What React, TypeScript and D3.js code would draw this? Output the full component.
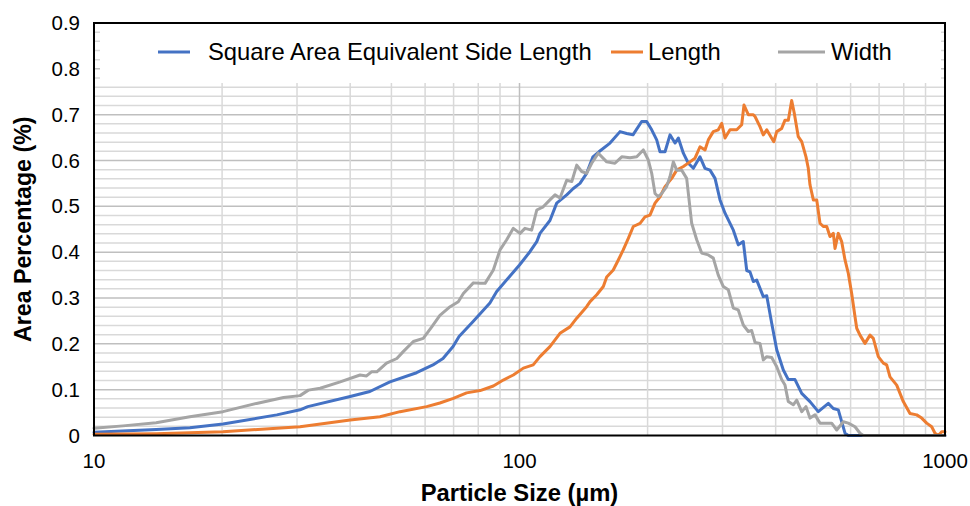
import React from "react";
import * as d3 from "d3";

// Particle size (µm) and area percentage (%) for each size descriptor
const sideSize = [10, 14.0, 16.8, 20.1, 26.9, 30.5, 31.8, 40.0, 44.5, 49.6, 57.3, 62.6, 66.1, 69.8, 72.1, 77.7, 85.2, 88.4, 95.0, 100, 105.8, 109.8, 111.7, 117.9, 122.3, 129.1, 133.8, 138.7, 143.8, 148.8, 153.7, 163.2, 172.3, 178.6, 184.8, 193.7, 199.0, 204.5, 210.1, 213.9, 219.8, 225.8, 232.0, 236.2, 242.7, 249.3, 256.2, 265.6, 272.9, 280.4, 288.1, 296.0, 304.1, 318.1, 326.7, 335.7, 342.0, 348.1, 354.4, 361.0, 374.1, 381.1, 391.5, 402.3, 416.9, 428.3, 444.1, 460.5, 481.6, 503.7, 531.8, 546.4, 561.3, 582.1, 592.5, 1000];
const sideValue = [0.007, 0.013, 0.017, 0.025, 0.045, 0.056, 0.063, 0.085, 0.096, 0.117, 0.137, 0.154, 0.168, 0.194, 0.216, 0.248, 0.289, 0.314, 0.348, 0.372, 0.401, 0.423, 0.441, 0.469, 0.507, 0.525, 0.539, 0.550, 0.572, 0.608, 0.619, 0.638, 0.663, 0.659, 0.656, 0.685, 0.685, 0.667, 0.645, 0.619, 0.619, 0.656, 0.638, 0.649, 0.616, 0.594, 0.583, 0.608, 0.583, 0.579, 0.561, 0.514, 0.485, 0.448, 0.416, 0.423, 0.360, 0.357, 0.336, 0.339, 0.303, 0.305, 0.245, 0.187, 0.143, 0.122, 0.122, 0.092, 0.074, 0.052, 0.070, 0.059, 0.056, 0.005, 0, 0];

const lengthSize = [10, 14.0, 20.1, 26.9, 30.5, 40.0, 47.0, 52.4, 60.5, 65.0, 69.9, 75.1, 80.8, 86.8, 91.6, 96.7, 102.1, 107.7, 111.7, 117.9, 124.5, 131.4, 136.3, 143.8, 146.5, 151.9, 157.4, 160.3, 166.1, 170.7, 175.3, 180.2, 185.1, 192.0, 197.2, 202.6, 208.2, 213.9, 219.8, 227.9, 234.1, 242.7, 251.6, 258.5, 265.6, 272.9, 277.8, 285.4, 293.2, 298.7, 304.1, 312.4, 324.0, 332.8, 337.0, 344.9, 354.4, 357.7, 367.4, 374.1, 381.1, 395.9, 402.3, 413.2, 420.7, 428.3, 436.2, 442.4, 452.0, 460.5, 471.3, 477.2, 481.6, 490.4, 499.5, 508.4, 517.6, 527.3, 536.7, 546.4, 551.5, 561.3, 571.7, 582.1, 592.5, 603.5, 614.5, 620.2, 631.3, 648.6, 666.4, 678.4, 697.0, 716.2, 729.4, 742.5, 770.0, 798.0, 827.4, 858.0, 881.5, 905.7, 930.5, 947.3, 964.5, 982.2, 1000];
const lengthValue = [0.003, 0.004, 0.008, 0.016, 0.019, 0.034, 0.041, 0.052, 0.063, 0.071, 0.081, 0.093, 0.098, 0.108, 0.121, 0.132, 0.147, 0.154, 0.172, 0.194, 0.223, 0.237, 0.256, 0.281, 0.292, 0.307, 0.325, 0.346, 0.361, 0.383, 0.405, 0.430, 0.456, 0.463, 0.477, 0.481, 0.507, 0.521, 0.543, 0.561, 0.579, 0.587, 0.597, 0.605, 0.630, 0.623, 0.645, 0.663, 0.667, 0.681, 0.649, 0.667, 0.667, 0.678, 0.721, 0.700, 0.700, 0.696, 0.674, 0.656, 0.667, 0.641, 0.663, 0.670, 0.688, 0.688, 0.731, 0.703, 0.652, 0.641, 0.608, 0.583, 0.547, 0.514, 0.514, 0.463, 0.456, 0.456, 0.434, 0.441, 0.408, 0.441, 0.423, 0.383, 0.354, 0.310, 0.259, 0.234, 0.219, 0.201, 0.219, 0.212, 0.172, 0.158, 0.154, 0.128, 0.110, 0.074, 0.048, 0.045, 0.038, 0.027, 0.019, 0.005, 0, 0.008, 0.008];

const widthSize = [10, 11.7, 14.0, 16.8, 20.1, 24.1, 27.9, 30.5, 31.9, 34.0, 37.9, 42.2, 43.7, 44.9, 46.2, 48.7, 51.5, 53.3, 56.3, 59.4, 62.2, 65.0, 68.7, 71.8, 73.8, 77.9, 80.8, 83.0, 86.8, 90.0, 93.3, 96.7, 100.3, 103.0, 106.8, 109.8, 113.7, 117.9, 121.2, 124.5, 129.1, 132.7, 136.3, 140.0, 143.8, 147.8, 153.2, 160.3, 167.6, 173.9, 181.8, 188.6, 195.4, 200.8, 204.5, 208.2, 211.9, 215.9, 221.7, 225.8, 229.9, 234.1, 240.5, 247.1, 253.9, 260.9, 268.0, 277.8, 285.4, 293.2, 301.3, 309.5, 318.1, 326.7, 335.7, 344.9, 351.3, 357.7, 367.4, 374.1, 381.1, 391.5, 402.3, 413.2, 420.7, 428.3, 440.0, 448.2, 460.5, 471.3, 481.6, 494.9, 508.4, 541.6, 556.6, 576.8, 592.5, 614.5, 631.3, 642.7, 1000];
const widthValue = [0.016, 0.021, 0.028, 0.041, 0.052, 0.070, 0.083, 0.087, 0.099, 0.103, 0.117, 0.132, 0.130, 0.139, 0.139, 0.158, 0.168, 0.183, 0.205, 0.212, 0.237, 0.262, 0.281, 0.292, 0.310, 0.333, 0.332, 0.332, 0.361, 0.405, 0.427, 0.452, 0.441, 0.452, 0.448, 0.492, 0.499, 0.514, 0.525, 0.518, 0.557, 0.554, 0.590, 0.576, 0.572, 0.594, 0.616, 0.597, 0.594, 0.608, 0.606, 0.608, 0.623, 0.601, 0.572, 0.528, 0.521, 0.528, 0.543, 0.565, 0.597, 0.579, 0.579, 0.561, 0.463, 0.427, 0.398, 0.394, 0.387, 0.350, 0.325, 0.318, 0.278, 0.274, 0.241, 0.227, 0.229, 0.203, 0.201, 0.165, 0.172, 0.170, 0.150, 0.122, 0.110, 0.074, 0.067, 0.077, 0.052, 0.063, 0.038, 0.045, 0.027, 0.027, 0.012, 0.030, 0.027, 0.019, 0.005, 0, 0];

const seriesNames = ["Square Area Equivalent Side Length", "Length", "Width"];
const seriesColors = ["#4472C4", "#ED7D31", "#A5A5A5"];
const xTicks = [10, 100, 1000];
const yTicks = [0, 0.1, 0.2, 0.3, 0.4, 0.5, 0.6, 0.7, 0.8, 0.9];

const W = 970;
const H = 506;
const M = { left: 94, right: 945, top: 23, bottom: 435.5 };
const FONT = "'Liberation Sans', Arial, sans-serif";

export default function App() {
  const x = d3.scaleLog().domain([10, 1000]).range([M.left, M.right]);
  const y = d3.scaleLinear().domain([0, 0.9]).range([M.bottom, M.top]);

  const series = [
    { sizes: sideSize, values: sideValue },
    { sizes: lengthSize, values: lengthValue },
    { sizes: widthSize, values: widthValue },
  ];

  const line = d3
    .line<[number, number]>()
    .x((d) => x(d[0]))
    .y((d) => y(d[1]));

  // minor vertical grid at 20..90 and 200..900, darker line at 100
  const vMinor: number[] = [];
  [10, 100].forEach((dec) => {
    for (let k = 2; k <= 9; k++) vMinor.push(dec * k);
  });
  const hMinor = d3.range(0, 46).map((i) => i * 0.02).filter((v) => Math.round(v * 100) % 10 !== 0);

  const legendItems = [
    { lx: 158, len: 32, tx: 208 },
    { lx: 611, len: 32, tx: 648 },
    { lx: 778, len: 47, tx: 831 },
  ];

  return (
    <svg width={W} height={H} style={{ position: "absolute", left: 0, top: 0, background: "#fff" }}>
      <rect x={0} y={0} width={W} height={H} fill="#fff" />
      {/* grid */}
      <g>
        {hMinor.map((v) => (
          <line key={"hm" + v} x1={M.left} x2={M.right} y1={y(v)} y2={y(v)} stroke="#d9d9d9" strokeWidth={1.5} />
        ))}
        {yTicks.slice(1).map((v) => (
          <line key={"hM" + v} x1={M.left} x2={M.right} y1={y(v)} y2={y(v)} stroke="#bfbfbf" strokeWidth={1.5} />
        ))}
        {vMinor.map((v) => (
          <line key={"vm" + v} x1={x(v)} x2={x(v)} y1={M.top} y2={M.bottom} stroke="#d9d9d9" strokeWidth={1.5} />
        ))}
        <line x1={x(100)} x2={x(100)} y1={M.top} y2={M.bottom} stroke="#bfbfbf" strokeWidth={1.5} />
      </g>

      {/* legend */}
      <rect x={100} y={M.top} width={841} height={60} fill="#fff" />
      {legendItems.map((it, i) => (
        <g key={"lg" + i}>
          <line x1={it.lx} x2={it.lx + it.len} y1={52} y2={52} stroke={seriesColors[i]} strokeWidth={3} />
          <text x={it.tx} y={60} fontFamily={FONT} fontSize={23.8} fill="#000">
            {seriesNames[i]}
          </text>
        </g>
      ))}

      {/* series */}
      {series.map((s, i) => (
        <path
          key={"s" + i}
          d={line(s.sizes.map((sz, j) => [sz, s.values[j]] as [number, number])) || ""}
          fill="none"
          stroke={seriesColors[i]}
          strokeWidth={3}
          strokeLinejoin="round"
          strokeLinecap="round"
        />
      ))}

      {/* plot frame */}
      <rect x={M.left} y={M.top} width={M.right - M.left} height={M.bottom - M.top} fill="none" stroke="#000" strokeWidth={2} />

      {/* y tick labels */}
      {yTicks.map((v) => (
        <text key={"yt" + v} x={80} y={y(v) + 7} textAnchor="end" fontFamily={FONT} fontSize={20.5} fill="#000">
          {v === 0 ? "0" : v.toFixed(1)}
        </text>
      ))}
      {/* x tick labels */}
      {xTicks.map((v) => (
        <text key={"xt" + v} x={x(v)} y={468} textAnchor="middle" fontFamily={FONT} fontSize={20.5} fill="#000">
          {v}
        </text>
      ))}

      {/* axis titles */}
      <text x={(M.left + M.right) / 2} y={501} textAnchor="middle" fontFamily={FONT} fontSize={23.8} fontWeight="bold" fill="#000">
        Particle Size (µm)
      </text>
      <text
        transform={`translate(31, ${(M.top + M.bottom) / 2}) rotate(-90)`}
        textAnchor="middle"
        fontFamily={FONT}
        fontSize={23.2}
        fontWeight="bold"
        fill="#000"
      >
        Area Percentage (%)
      </text>
    </svg>
  );
}
